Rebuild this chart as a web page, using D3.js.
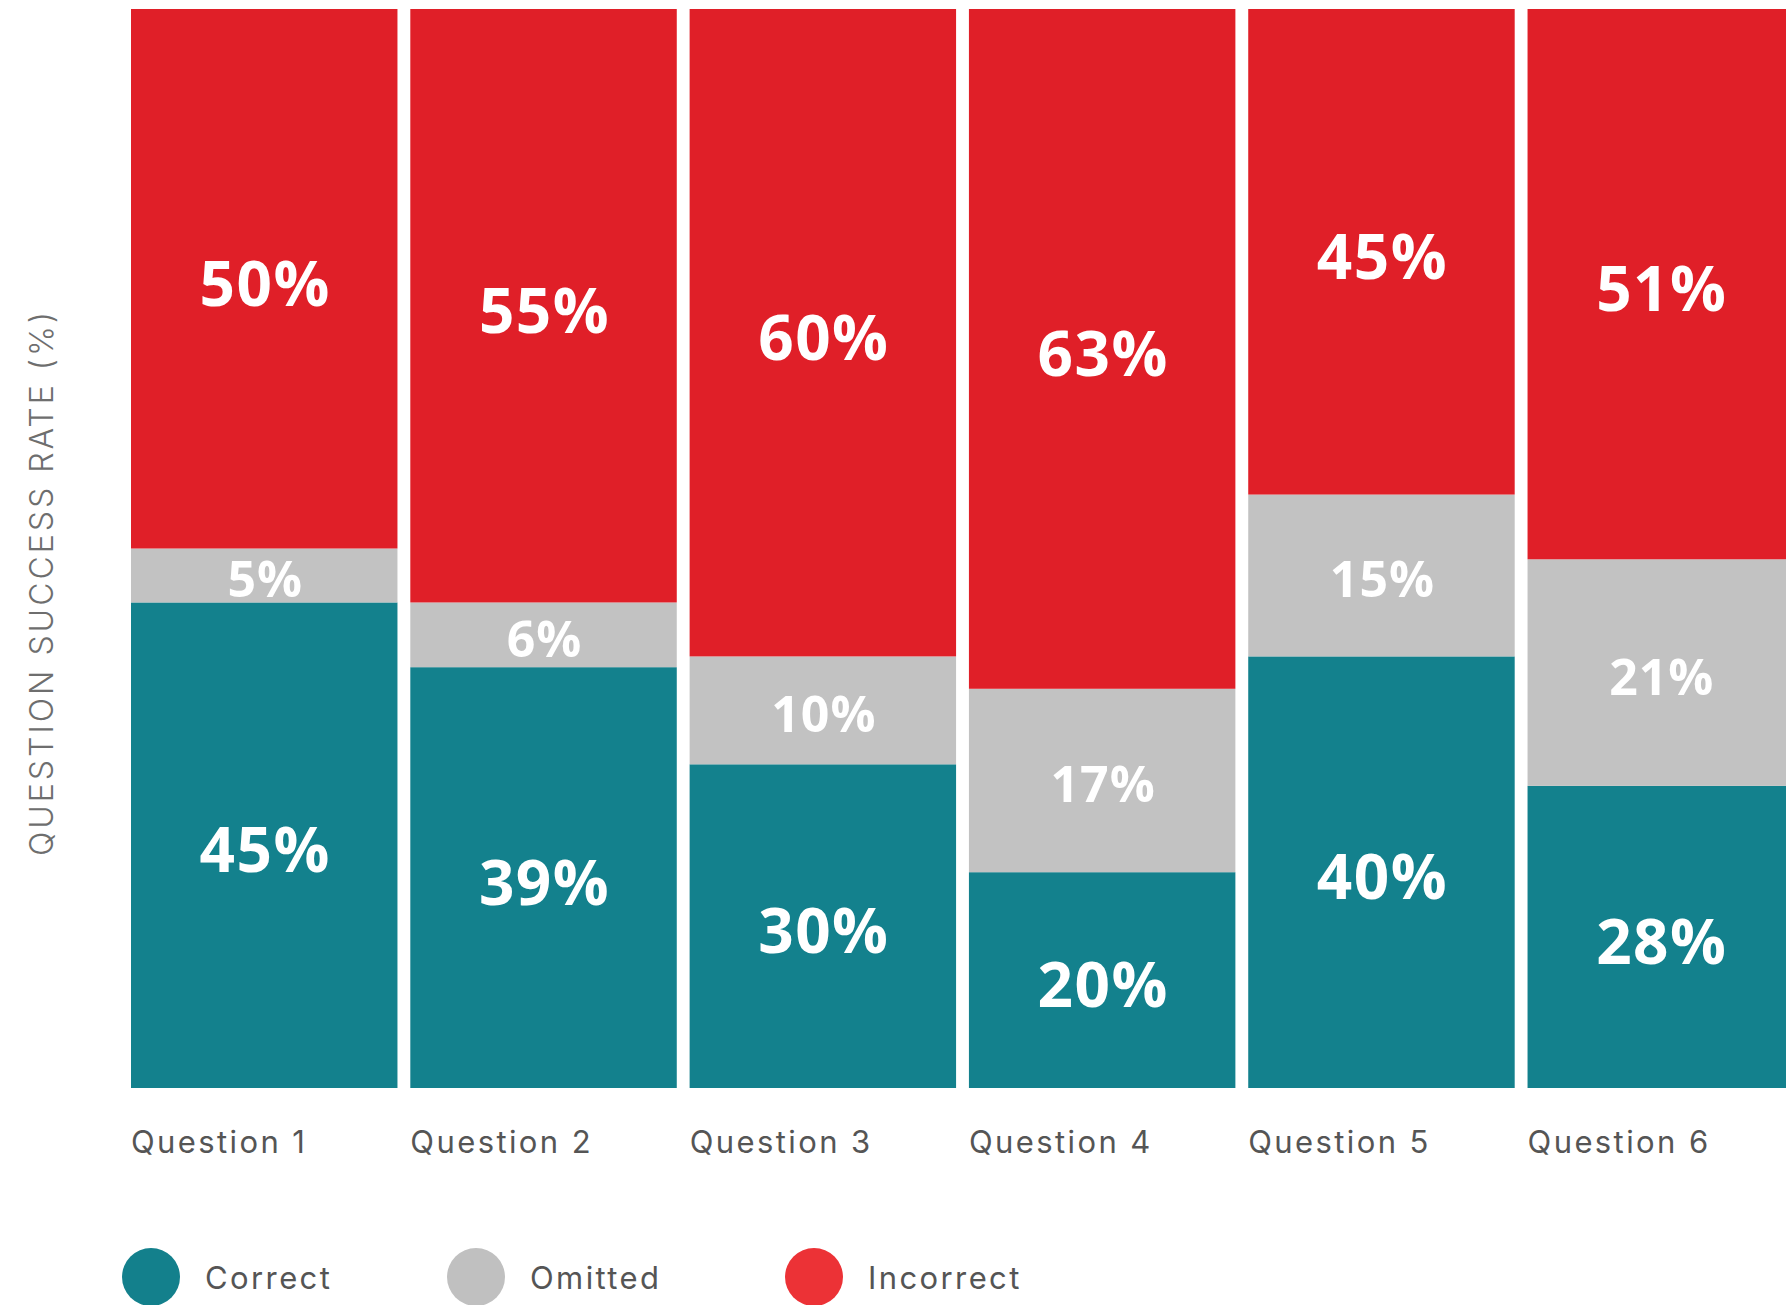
<!DOCTYPE html>
<html>
<head>
<meta charset="utf-8">
<script src="https://cdn.jsdelivr.net/npm/d3@7/dist/d3.min.js"></script>
<style>
  html, body { margin: 0; padding: 0; background: #ffffff; overflow: hidden; }
  svg { display: block; }
</style>
</head>
<body>
<svg id="chart" width="1786" height="1305"></svg>
<script>
// Share of responses per question (percent)
const questions = ["Question 1", "Question 2", "Question 3", "Question 4", "Question 5", "Question 6"];
const correct   = [45, 39, 30, 20, 40, 28];
const omitted   = [5, 6, 10, 17, 15, 21];
const incorrect = [50, 55, 60, 63, 45, 51];

const seriesKeys   = ["correct", "omitted", "incorrect"];
const seriesLabels = ["Correct", "Omitted", "Incorrect"];
const yTitle = "QUESTION SUCCESS RATE (%)";

const barColors    = { correct: "#13818d", omitted: "#c2c2c2", incorrect: "#e01f28" };
const legendColors = { correct: "#13808c", omitted: "#c0c0c0", incorrect: "#ec3236" };

const rows = questions.map((q, i) => ({
  question: q, correct: correct[i], omitted: omitted[i], incorrect: incorrect[i]
}));

const svg = d3.select("#chart");
const labelFont = "Inter, 'Liberation Sans', sans-serif";
const valueFont = "'Open Sans', 'Liberation Sans', sans-serif";

// The last column runs past the right edge of the canvas
const x = d3.scaleBand()
  .domain(questions)
  .range([131, 1794])
  .paddingInner(0.046)
  .paddingOuter(0);

const y = d3.scaleLinear().domain([0, 100]).range([1088, 9]);

const layers = d3.stack().keys(seriesKeys)(rows);

const g = svg.append("g");

layers.forEach(layer => {
  const key = layer.key;
  const lg = g.append("g").attr("class", "layer-" + key);
  lg.selectAll("rect")
    .data(layer)
    .join("rect")
    .attr("x", d => x(d.data.question))
    .attr("width", x.bandwidth())
    .attr("y", d => y(d[1]))
    .attr("height", d => y(d[0]) - y(d[1]))
    .attr("fill", barColors[key]);

  lg.selectAll("text")
    .data(layer)
    .join("text")
    .attr("x", d => x(d.data.question) + x.bandwidth() / 2 + 1)
    .attr("y", d => (y(d[0]) + y(d[1])) / 2 + 3)
    .attr("text-anchor", "middle")
    .attr("dominant-baseline", "central")
    .attr("fill", "#ffffff")
    .attr("font-family", valueFont)
    .attr("font-weight", 700)
    .attr("font-size", key === "omitted" ? 50 : 62)
    .attr("letter-spacing", key === "omitted" ? 1 : 1.5)
    .text(d => d.data[key] + "%");
});

// Category axis: labels sit at the left edge of each column
const xAxis = svg.append("g")
  .attr("transform", `translate(0, ${y(0)})`)
  .call(d3.axisBottom(x).tickSize(0).tickPadding(0));
xAxis.select(".domain").remove();
xAxis.selectAll(".tick text")
  .attr("x", -x.bandwidth() / 2)
  .attr("y", 54)
  .attr("dy", "0.35em")
  .attr("text-anchor", "start")
  .attr("fill", "#555555")
  .attr("font-family", labelFont)
  .attr("font-size", 31)
  .attr("letter-spacing", 2.4);

// Vertical axis title
svg.append("text")
  .attr("transform", `translate(41, ${(y(0) + y(100)) / 2 + 34}) rotate(-90)`)
  .attr("text-anchor", "middle")
  .attr("dominant-baseline", "central")
  .attr("fill", "#6e6e6e")
  .attr("font-family", labelFont)
  .attr("font-weight", 300)
  .attr("font-size", 32)
  .attr("letter-spacing", 3)
  .text(yTitle);

// Legend
const legendX = [151, 476, 814];
const legend = svg.append("g");
seriesKeys.forEach((k, i) => {
  const item = legend.append("g").attr("transform", `translate(${legendX[i]}, 1277)`);
  item.append("circle").attr("r", 29).attr("fill", legendColors[k]);
  item.append("text")
    .attr("x", 54)
    .attr("y", 0)
    .attr("dominant-baseline", "central")
    .attr("fill", "#555555")
    .attr("font-family", labelFont)
    .attr("font-size", 31)
    .attr("letter-spacing", 2.4)
    .text(seriesLabels[i]);
});
</script>
</body>
</html>
